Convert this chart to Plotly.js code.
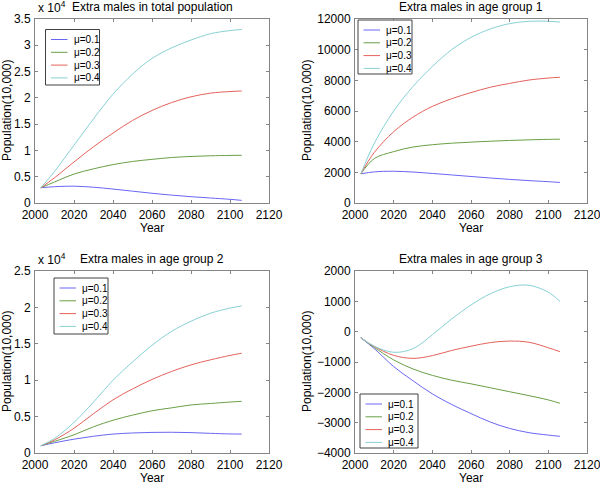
<!DOCTYPE html>
<html>
<head>
<meta charset="utf-8">
<script src="https://cdn.plot.ly/plotly-3.0.1.min.js"></script>
<style>html,body{margin:0;padding:0;background:#fff;}#chart{width:600px;height:484px;}</style>
</head>
<body>
<div id="chart"></div>
<script>
// ---------- data ----------
const years = [2003, 2010, 2020, 2030, 2040, 2050, 2060, 2070, 2080, 2090, 2100, 2106];
const muLabels = ['\u03bc=0.1', '\u03bc=0.2', '\u03bc=0.3', '\u03bc=0.4'];

const total_mu1 = [2900, 3100, 3200, 3000, 2650, 2250, 1850, 1500, 1200, 950, 700, 500];
const total_mu2 = [2900, 4000, 5500, 6500, 7300, 7900, 8300, 8650, 8850, 8980, 9050, 9080];
const total_mu3 = [2900, 4800, 7800, 10700, 13300, 15700, 17600, 19100, 20200, 20900, 21200, 21300];
const total_mu4 = [2900, 6000, 11000, 16000, 20700, 24500, 27500, 29500, 31000, 32200, 32800, 33000];

const g1_mu1 = [1900, 2030, 2070, 2020, 1930, 1830, 1730, 1630, 1540, 1460, 1390, 1340];
const g1_mu2 = [1900, 2900, 3350, 3650, 3800, 3900, 3970, 4030, 4080, 4120, 4150, 4160];
const g1_mu3 = [1900, 3300, 4650, 5600, 6300, 6800, 7200, 7550, 7800, 8020, 8150, 8200];
const g1_mu4 = [1900, 3900, 6000, 7600, 8900, 10000, 10800, 11350, 11700, 11850, 11850, 11800];

const g2_mu1 = [1000, 1400, 1900, 2300, 2600, 2750, 2830, 2850, 2800, 2700, 2620, 2600];
const g2_mu2 = [1000, 1600, 2500, 3600, 4500, 5200, 5800, 6200, 6600, 6800, 7000, 7100];
const g2_mu3 = [1000, 1800, 3400, 5400, 7300, 8800, 10100, 11200, 12100, 12800, 13400, 13700];
const g2_mu4 = [1000, 2000, 4200, 7000, 10000, 12500, 14800, 16700, 18100, 19200, 19900, 20200];

const g3_mu1 = [-200, -560, -1150, -1620, -2050, -2400, -2700, -2980, -3190, -3330, -3410, -3450];
const g3_mu2 = [-200, -520, -930, -1230, -1440, -1600, -1720, -1850, -1980, -2110, -2250, -2360];
const g3_mu3 = [-200, -490, -780, -880, -790, -620, -480, -360, -310, -350, -530, -660];
const g3_mu4 = [-200, -480, -680, -560, -100, 420, 880, 1250, 1480, 1530, 1300, 1000];

const yTickVals10k = {
  total: [0, 5000, 10000, 15000, 20000, 25000, 30000, 35000],
  g2: [0, 5000, 10000, 15000, 20000, 25000]
};
const yTickText10k = {
  total: ['0', '0.5', '1', '1.5', '2', '2.5', '3', '3.5'],
  g2: ['0', '0.5', '1', '1.5', '2', '2.5']
};

const panelTitles = ['Extra males in total population', 'Extra males in age group 1',
                     'Extra males in age group 2', 'Extra males in age group 3'];
const xTitle = 'Year';
const yTitle = 'Population(10,000)';

// ---------- styling ----------
const colors = ['#6b66f2', '#6a9f46', '#e5625c', '#87d1d4'];
const FONT = 'Liberation Sans, Arial, Helvetica, sans-serif';
const W = 600, H = 484;
// axes pixel boxes [left, top, right, bottom]
const boxes = [[35, 19, 269, 203], [355, 19, 587, 203], [35, 271, 269, 453], [355, 271, 587, 453]];
const px = x => x / W;
const py = y => 1 - y / H;

const series = [
  [total_mu1, total_mu2, total_mu3, total_mu4],
  [g1_mu1, g1_mu2, g1_mu3, g1_mu4],
  [g2_mu1, g2_mu2, g2_mu3, g2_mu4],
  [g3_mu1, g3_mu2, g3_mu3, g3_mu4]
];

const traces = [];
series.forEach((set, p) => {
  set.forEach((vals, i) => {
    traces.push({
      x: years, y: vals, type: 'scatter', mode: 'lines',
      name: muLabels[i], showlegend: false,
      xaxis: p === 0 ? 'x' : 'x' + (p + 1),
      yaxis: p === 0 ? 'y' : 'y' + (p + 1),
      line: {color: colors[i], width: 1, shape: 'spline', smoothing: 1}
    });
  });
});

function axisBase() {
  return {
    showgrid: false, zeroline: false, showline: true, linecolor: '#858585', linewidth: 1,
    mirror: 'ticks', ticks: 'inside', ticklen: 3, tickcolor: '#858585',
    ticklabeloverflow: 'allow',
    tickfont: {family: FONT, size: 12, color: '#000'}, fixedrange: true
  };
}

const layout = {
  width: W, height: H, margin: {l: 0, r: 0, t: 0, b: 0},
  paper_bgcolor: '#fff', plot_bgcolor: '#fff', showlegend: false,
  shapes: [], annotations: []
};

const yRanges = [[0, 35000], [0, 12000], [0, 25000], [-4000, 2000]];
boxes.forEach((b, p) => {
  const xa = Object.assign(axisBase(), {
    domain: [px(b[0]), px(b[2])], range: [2000, 2120], tickmode: 'linear', tick0: 2000, dtick: 20,
    tickformat: 'd', ticklabelstandoff: 1, anchor: p === 0 ? 'y' : 'y' + (p + 1)
  });
  const ya = Object.assign(axisBase(), {
    domain: [py(b[3]), py(b[1])], range: yRanges[p], ticklabelstandoff: 1,
    anchor: p === 0 ? 'x' : 'x' + (p + 1)
  });
  if (p === 0) { ya.tickmode = 'array'; ya.tickvals = yTickVals10k.total; ya.ticktext = yTickText10k.total; }
  else if (p === 2) { ya.tickmode = 'array'; ya.tickvals = yTickVals10k.g2; ya.ticktext = yTickText10k.g2; }
  else if (p === 1) { ya.tickmode = 'linear'; ya.tick0 = 0; ya.dtick = 2000; ya.tickformat = 'd'; }
  else { ya.tickmode = 'linear'; ya.tick0 = -4000; ya.dtick = 1000; ya.tickformat = 'd'; }
  layout[p === 0 ? 'xaxis' : 'xaxis' + (p + 1)] = xa;
  layout[p === 0 ? 'yaxis' : 'yaxis' + (p + 1)] = ya;

  const cx = (b[0] + b[2]) / 2;
  // panel title
  layout.annotations.push({text: panelTitles[p], xref: 'paper', yref: 'paper', x: px(cx), y: py(b[1] - 12),
    xanchor: 'center', yanchor: 'middle', showarrow: false, font: {family: FONT, size: 12, color: '#000'}});
  // x title
  layout.annotations.push({text: xTitle, xref: 'paper', yref: 'paper', x: px(cx), y: py(b[3] + 25),
    xanchor: 'center', yanchor: 'middle', showarrow: false, font: {family: FONT, size: 12, color: '#000'}});
  // y title
  const ytx = p % 2 === 0 ? 7 : 307;
  layout.annotations.push({text: yTitle, xref: 'paper', yref: 'paper', x: px(ytx), y: py((b[1] + b[3]) / 2),
    xanchor: 'center', yanchor: 'middle', textangle: -90, showarrow: false, font: {family: FONT, size: 12, color: '#000'}});
});

// exponent labels
[0, 2].forEach(p => {
  const b = boxes[p];
  layout.annotations.push({text: 'x 10<sup>4</sup>', xref: 'paper', yref: 'paper', x: px(b[0] + 1), y: py(b[1] - 2),
    xanchor: 'left', yanchor: 'bottom', showarrow: false, font: {family: FONT, size: 12, color: '#000'}});
});

// legends: [offsetLeft, offsetTop, width, height] relative to axes box
const legendBoxes = [[10.5, 10.5, 54, 55.5], [3, 1, 54, 54], [19, 7, 54, 56], [5, 123, 58, 54]];
const legendRow0 = 10, legendRowGap = 12.8;
legendBoxes.forEach((lb, p) => {
  const b = boxes[p];
  const L = b[0] + lb[0], T = b[1] + lb[1];
  layout.shapes.push({type: 'rect', xref: 'paper', yref: 'paper', x0: px(L), x1: px(L + lb[2]), y0: py(T + lb[3]), y1: py(T),
    line: {color: '#404040', width: 1}, fillcolor: '#fff', layer: 'above'});
  muLabels.forEach((lab, i) => {
    const yy = T + legendRow0 + i * legendRowGap;
    layout.shapes.push({type: 'line', xref: 'paper', yref: 'paper', x0: px(L + 5.5), x1: px(L + 22), y0: py(yy), y1: py(yy),
      line: {color: colors[i], width: 1}, layer: 'above'});
    layout.annotations.push({text: lab, xref: 'paper', yref: 'paper', x: px(L + 26), y: py(yy),
      xanchor: 'left', yanchor: 'middle', showarrow: false, font: {family: FONT, size: 10, color: '#000'}});
  });
});

Plotly.newPlot('chart', traces, layout, {displayModeBar: false, staticPlot: true});
</script>
</body>
</html>
